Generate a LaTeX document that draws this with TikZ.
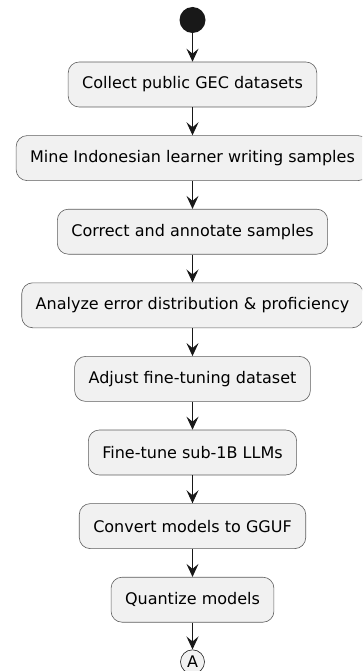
\documentclass[tikz,border=0pt]{standalone}
\usepackage{fontspec}
\setmainfont{DejaVu Sans}
\usetikzlibrary{positioning,arrows.meta}
\definecolor{actfill}{HTML}{F1F1F1}
\definecolor{actline}{HTML}{181818}
\begin{document}
\begin{tikzpicture}[x=1pt,y=1pt,node distance=28pt,
    activity/.style={draw=actline!70,line width=0.6pt,fill=actfill,rounded corners=11pt,
      minimum height=45pt,inner xsep=14pt,font=\fontsize{16}{19}\selectfont},
    flow/.style={draw=actline,line width=1pt,-{Stealth[length=13pt,width=12pt,inset=5pt]}}]
  \useasboundingbox (0,0) rectangle (362,-671);
  \clip (0,0) rectangle (362,-671);
  \node [circle,fill=actline,minimum size=26pt,inner sep=0pt] (start) at (192.5,-20) {};
  \node [activity,below=28.5pt of start] (collect) {Collect public GEC datasets};
  \node [activity,below=of collect] (mine) {Mine Indonesian learner writing samples};
  \node [activity,below=of mine] (annotate) {Correct and annotate samples};
  \node [activity,below=of annotate] (analyze) {Analyze error distribution \& proficiency};
  \node [activity,below=of analyze] (adjust) {Adjust fine-tuning dataset};
  \node [activity,below=of adjust] (finetune) {Fine-tune sub-1B LLMs};
  \node [activity,below=of finetune] (convert) {Convert models to GGUF};
  \node [activity,below=of convert] (quantize) {Quantize models};
  \node [circle,draw=actline,line width=0.6pt,fill=actfill,minimum size=24pt,inner sep=0pt,
    font=\fontsize{16}{19}\selectfont,below=27pt of quantize] (connA) {A};
  \draw [flow] (start) -- (collect);
  \draw [flow] (collect) -- (mine);
  \draw [flow] (mine) -- (annotate);
  \draw [flow] (annotate) -- (analyze);
  \draw [flow] (analyze) -- (adjust);
  \draw [flow] (adjust) -- (finetune);
  \draw [flow] (finetune) -- (convert);
  \draw [flow] (convert) -- (quantize);
  \draw [flow] (quantize) -- (connA);
\end{tikzpicture}
\end{document}
